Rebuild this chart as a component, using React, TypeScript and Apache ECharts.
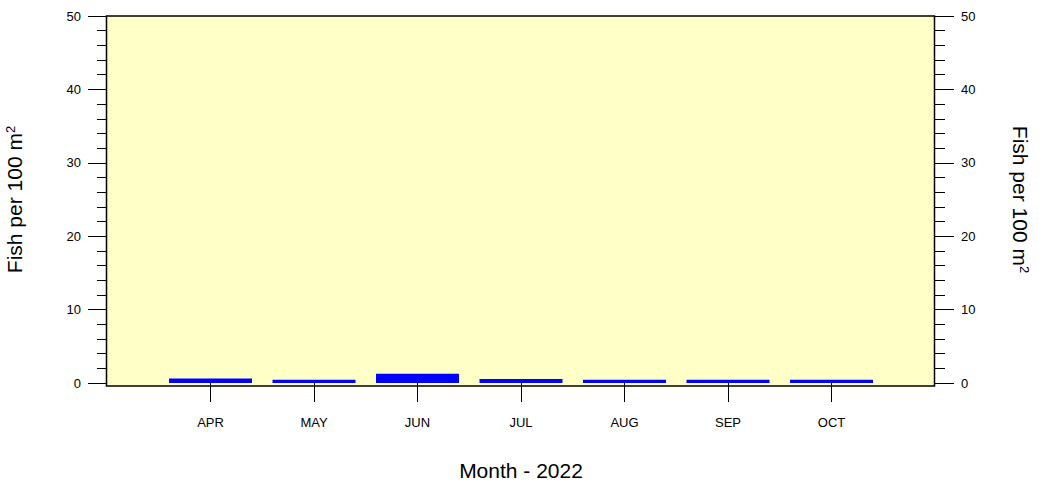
import React, { useEffect, useRef } from 'react';
import * as echarts from 'echarts';

// ---- data ----
const months: string[] = ['', 'APR', 'MAY', 'JUN', 'JUL', 'AUG', 'SEP', 'OCT', ''];
const fishPer100m2: (number | null)[] = [null, 0.6, 0.45, 1.25, 0.55, 0.45, 0.45, 0.45, null];
const yMin = 0;
const yMax = 50;
const yInterval = 10;
const xTitle = 'Month - 2022';
const yTitle = 'Fish per 100 m';
const yTitleSup = '2';

// ---- layout ----
const W = 1039;
const H = 484;
const GRID_LEFT = 107;
const GRID_RIGHT = 104;
const GRID_TOP = 16;
const GRID_BOTTOM = 101;
const BOX_EXTRA = 3; // frame extends slightly below zero line
const FONT = '"Liberation Sans", Arial, Helvetica, sans-serif';

export default function App() {
  const ref = useRef<HTMLDivElement>(null);

  useEffect(() => {
    if (!ref.current) return;
    const chart = echarts.init(ref.current, undefined, { renderer: 'svg' });

    const yAxisCommon = (position: 'left' | 'right', rotate: number, gap: number) => ({
      type: 'value' as const,
      position,
      min: yMin,
      max: yMax,
      interval: yInterval,
      axisLine: { show: false },
      axisTick: { show: true, length: 19, lineStyle: { color: '#000', width: 1 } },
      minorTick: { show: true, splitNumber: 5, length: 10, lineStyle: { color: '#000', width: 1 } },
      splitLine: { show: false },
      minorSplitLine: { show: false },
      axisLabel: { margin: 26, fontSize: 13, color: '#000', fontFamily: FONT },
      name: `{a|${yTitle}}{b|${yTitleSup}}`,
      nameLocation: 'middle' as const,
      nameRotate: rotate,
      nameGap: gap,
      nameTextStyle: {
        color: '#000',
        fontSize: 21,
        fontFamily: FONT,
        rich: {
          a: { fontSize: 21, fontFamily: FONT, color: '#000' },
          b: { fontSize: 13, fontFamily: FONT, color: '#000', verticalAlign: 'top' as const },
        },
      },
    });

    const plotW = W - GRID_LEFT - GRID_RIGHT;
    const plotH = H - GRID_TOP - GRID_BOTTOM;

    chart.setOption({
      animation: false,
      backgroundColor: '#fff',
      grid: {
        left: GRID_LEFT,
        right: GRID_RIGHT,
        top: GRID_TOP,
        bottom: GRID_BOTTOM,
        containLabel: false,
        outerBoundsMode: 'none',
      },
      graphic: [
        {
          type: 'rect',
          z: -10,
          silent: true,
          shape: { x: GRID_LEFT - 0.5, y: GRID_TOP, width: plotW, height: plotH + BOX_EXTRA },
          style: { fill: '#FFFFC8', stroke: '#000', lineWidth: 1.5 },
        },
      ],
      xAxis: {
        type: 'category',
        data: months,
        boundaryGap: false,
        offset: BOX_EXTRA,
        axisLine: { show: false },
        axisTick: {
          show: true,
          length: 19,
          interval: (_i: number, v: string) => v !== '',
          lineStyle: { color: '#000', width: 1 },
        },
        axisLabel: { interval: 0, margin: 30, fontSize: 13, color: '#000', fontFamily: FONT },
        splitLine: { show: false },
        name: xTitle,
        nameLocation: 'middle',
        nameGap: 74,
        nameTextStyle: { color: '#000', fontSize: 21, fontFamily: FONT },
      },
      yAxis: [yAxisCommon('left', 90, 82), yAxisCommon('right', -90, 75)],
      series: [
        {
          type: 'bar',
          data: fishPer100m2,
          barWidth: 83,
          itemStyle: { color: '#0000FF' },
          yAxisIndex: 0,
        },
      ],
    });

    return () => chart.dispose();
  }, []);

  return (
    <div
      ref={ref}
      style={{ position: 'fixed', left: 0, top: 0, width: W, height: H, background: '#fff' }}
    />
  );
}
